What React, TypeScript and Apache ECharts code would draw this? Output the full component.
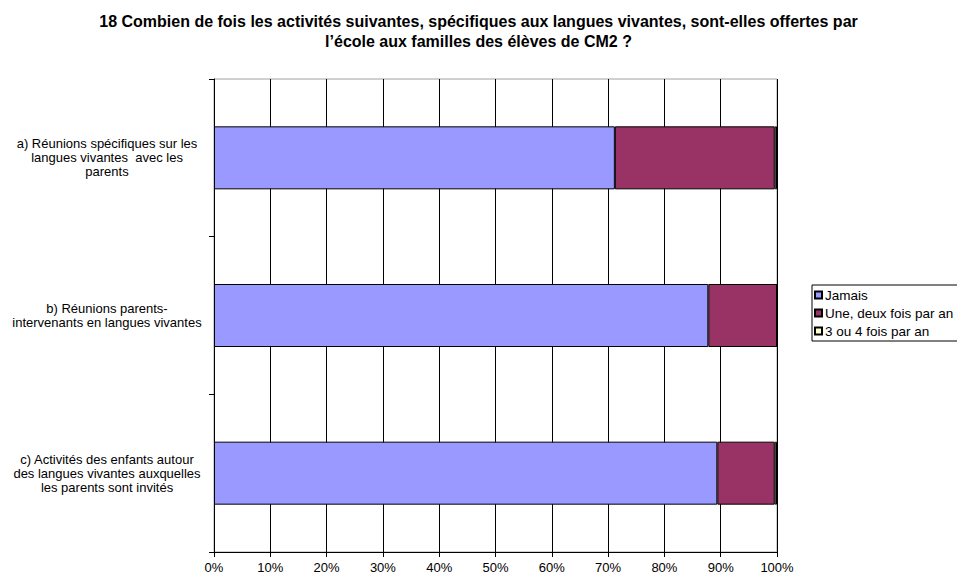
import React, { useEffect, useRef } from "react";
import * as echarts from "echarts";

const titleText =
  "18 Combien de fois les activités suivantes, spécifiques aux langues vivantes, sont-elles offertes par\nl’école aux familles des élèves de CM2 ?";

const categories = [
  "a) Réunions spécifiques sur les\nlangues vivantes  avec les\nparents",
  "b) Réunions parents-\nintervenants en langues vivantes",
  "c) Activités des enfants autour\ndes langues vivantes auxquelles\nles parents sont invités",
];

const seriesNames = ["Jamais", "Une, deux fois par an", "3 ou 4 fois par an"];
const jamais = [71.2, 87.8, 89.4];
const uneDeux = [28.4, 12.2, 10.2];
const troisQuatre = [0.4, 0, 0.4];
const seriesColors = ["#9999FF", "#993366", "#FFFFCC"];

export default function App() {
  const ref = useRef<HTMLDivElement>(null);
  useEffect(() => {
    document.body.style.margin = "0";
    const chart = echarts.init(ref.current!, null, { renderer: "svg" });
    const values = [jamais, uneDeux, troisQuatre];
    chart.setOption({
      animation: false,
      backgroundColor: "#ffffff",
      textStyle: { fontFamily: "Liberation Sans, Arial, sans-serif" },
      title: {
        text: titleText,
        left: "center",
        top: 6,
        textStyle: {
          fontSize: 16,
          fontWeight: "bold",
          color: "#000",
          lineHeight: 20,
          fontFamily: "Liberation Sans, Arial, sans-serif",
        },
      },
      legend: {
        orient: "vertical",
        left: 812,
        top: 285,
        itemWidth: 7,
        itemHeight: 7,
        itemGap: 4,
        padding: [3, 12, 3, 2],
        borderColor: "#000",
        borderWidth: 1,
        icon: "rect",
        data: seriesNames,
        textStyle: { fontSize: 13.5, color: "#000", padding: [0, 0, 0, -2] },
      },
      grid: {
        left: 214,
        top: 79,
        right: 180,
        bottom: 24,
        show: true,
        borderColor: "#a0a0a0",
        borderWidth: 1,
      },
      xAxis: {
        type: "value",
        min: 0,
        max: 100,
        interval: 10,
        axisLine: { show: true, lineStyle: { color: "#000" } },
        axisTick: { show: true, length: 5, lineStyle: { color: "#000" } },
        splitLine: { show: true, lineStyle: { color: "#000", width: 1 } },
        axisLabel: {
          formatter: "{value}%",
          fontSize: 13,
          color: "#000",
          margin: 9,
        },
      },
      yAxis: {
        type: "category",
        inverse: true,
        data: categories,
        axisLine: { show: true, lineStyle: { color: "#000" } },
        axisTick: { show: true, length: 5, lineStyle: { color: "#000" } },
        axisLabel: {
          fontSize: 13,
          color: "#000",
          align: "center",
          margin: 107,
          lineHeight: 14,
        },
      },
      series: seriesNames.map((name, i) => ({
        name,
        type: "bar",
        stack: "total",
        barWidth: 63,
        data: values[i],
        itemStyle: { color: seriesColors[i], borderColor: "#000", borderWidth: 1 },
      })),
    });
    return () => chart.dispose();
  }, []);
  return <div ref={ref} style={{ width: 957, height: 576 }} />;
}
